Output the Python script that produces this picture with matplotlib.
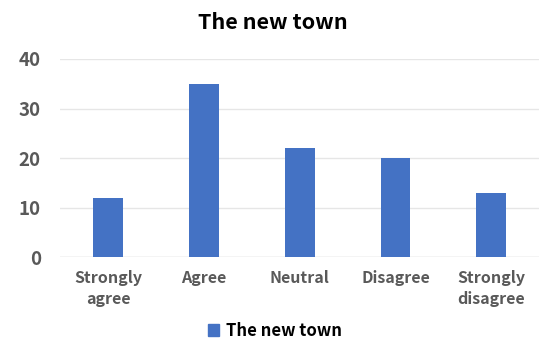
import matplotlib
matplotlib.use("Agg")
import matplotlib.pyplot as plt
from matplotlib.patches import Patch

categories = ["Strongly\nagree", "Agree", "Neutral", "Disagree", "Strongly\ndisagree"]
values = [12, 35, 22, 20, 13]
series_name = "The new town"
yticks = [0, 10, 20, 30, 40]

plt.rcParams['font.family'] = ['Noto Sans CJK KR', 'DejaVu Sans']
fig = plt.figure(figsize=(5.39, 3.41), dpi=100)
ax = fig.add_axes([0.112, 0.246, 0.888, 0.581])
color = "#4472C4"
x = range(len(categories))
ax.bar(x, values, width=0.31, color=color, zorder=3)
ax.set_xlim(-0.5, len(categories) - 0.5)
ax.set_ylim(0, 40)
ax.set_yticks(yticks)
ax.set_xticks(list(x))
ax.set_xticklabels(categories, fontsize=11.5, fontweight='bold', color='#595959', linespacing=1.45)
ax.set_yticklabels([str(t) for t in yticks], fontsize=13.5, fontweight='bold', color='#595959')
ax.tick_params(axis='both', length=0)
ax.tick_params(axis='x', pad=9)
ax.tick_params(axis='y', pad=14)
ax.grid(axis='y', color='#E6E6E6', linewidth=1, zorder=0)
for s in ax.spines.values():
    s.set_visible(False)
ax.axhline(0, color='#E0E0E0', linewidth=1, zorder=2)
fig.suptitle(series_name, x=0.507, y=0.965, fontsize=15.5, fontweight='bold', color='black')
fig.legend(handles=[Patch(color=color, label=series_name)], loc='lower center',
           bbox_to_anchor=(0.51, -0.04), frameon=False, handlelength=0.7, handleheight=0.7,
           handletextpad=0.4, prop={'size': 12, 'weight': 'bold'})
fig.savefig("out.png", dpi=100, facecolor='white')
